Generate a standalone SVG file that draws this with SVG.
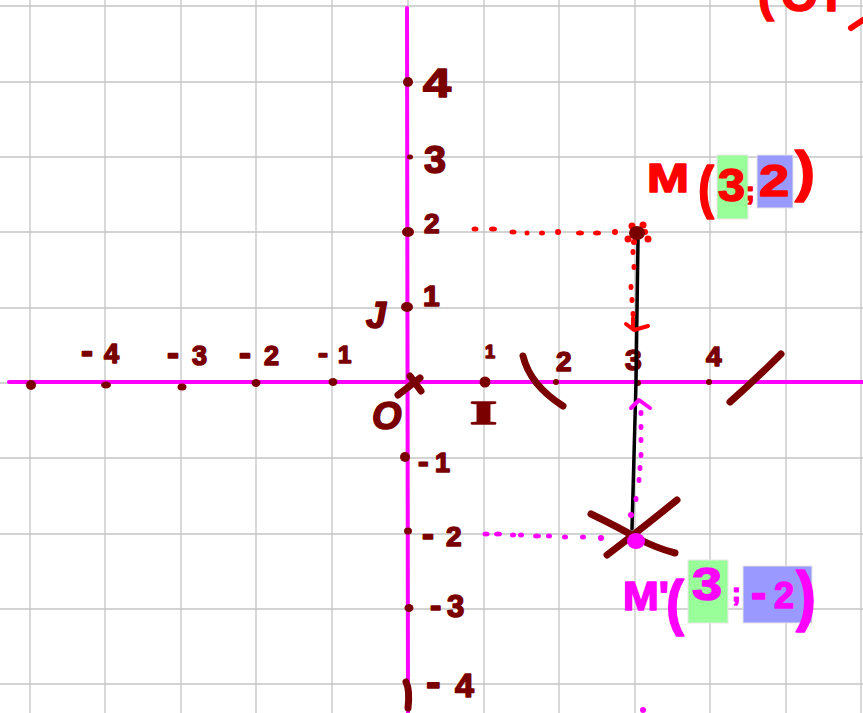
<svg xmlns="http://www.w3.org/2000/svg" width="863" height="713" viewBox="0 0 863 713">
<style>
.grid line{stroke:#c4c4c4;stroke-width:1.3}
.axis{stroke:#ff00ff;stroke-width:4;stroke-linecap:round;fill:none}
.mk{stroke:#7a0000;stroke-width:7;stroke-linecap:round;fill:none}
.dot{fill:#7a0000}
.lbl{fill:#7a0000;stroke:#7a0000;stroke-width:1.6;stroke-linejoin:round;font-family:"Liberation Sans",Arial,sans-serif;font-weight:bold}
.red{fill:#ff0000;stroke:#ff0000;stroke-width:1.6;stroke-linejoin:round;font-family:"Liberation Sans",Arial,sans-serif;font-weight:bold}
.mag{fill:#ff00ff;stroke:#ff00ff;stroke-width:1.6;stroke-linejoin:round;font-family:"Liberation Sans",Arial,sans-serif;font-weight:bold}
.mn{font-size:36px}
.rdot{fill:#ff0000}
.mdot{fill:#ff00ff}
.arrR{stroke:#ff0000;stroke-width:4;stroke-linecap:round;stroke-linejoin:round;fill:none}
.arrM{stroke:#ff00ff;stroke-width:4;stroke-linecap:round;stroke-linejoin:round;fill:none}
.hlG{fill:#99ff99;stroke:#e6e6e6;stroke-width:1}
.hlB{fill:#9999ff;stroke:#e6e6e6;stroke-width:1}
</style>
<rect width="863" height="713" fill="#ffffff"/>
<g class="grid" id="grid">
<line x1="30" y1="0" x2="30" y2="713"/><line x1="105" y1="0" x2="105" y2="713"/><line x1="181" y1="0" x2="181" y2="713"/><line x1="256" y1="0" x2="256" y2="713"/><line x1="332" y1="0" x2="332" y2="713"/><line x1="408" y1="0" x2="408" y2="713"/><line x1="484" y1="0" x2="484" y2="713"/><line x1="559" y1="0" x2="559" y2="713"/><line x1="635" y1="0" x2="635" y2="713"/><line x1="710" y1="0" x2="710" y2="713"/><line x1="786" y1="0" x2="786" y2="713"/><line x1="861" y1="0" x2="861" y2="713"/>
<line x1="0" y1="6" x2="863" y2="6"/><line x1="0" y1="82" x2="863" y2="82"/><line x1="0" y1="157" x2="863" y2="157"/><line x1="0" y1="232" x2="863" y2="232"/><line x1="0" y1="308" x2="863" y2="308"/><line x1="0" y1="383" x2="863" y2="383"/><line x1="0" y1="458" x2="863" y2="458"/><line x1="0" y1="534" x2="863" y2="534"/><line x1="0" y1="609" x2="863" y2="609"/><line x1="0" y1="684" x2="863" y2="684"/>
</g>
<g id="axes">
<line class="axis" x1="9" y1="382" x2="863" y2="382"/>
<line class="axis" x1="407" y1="8" x2="408" y2="713"/>
</g>
<g id="x-ticks">
<ellipse class="dot" cx="31" cy="385" rx="5" ry="5"/>
<ellipse class="dot" cx="106" cy="385" rx="5" ry="3.5"/>
<ellipse class="dot" cx="182" cy="387" rx="4.5" ry="3.5"/>
<ellipse class="dot" cx="256" cy="383" rx="4.5" ry="4"/>
<ellipse class="dot" cx="333" cy="382" rx="4.5" ry="4"/>
<ellipse class="dot" cx="485" cy="382" rx="5.5" ry="5.5"/>
<ellipse class="dot" cx="556" cy="382" rx="3" ry="3"/>
<ellipse class="dot" cx="638" cy="383" rx="3" ry="3"/>
<ellipse class="dot" cx="709" cy="382" rx="3" ry="3"/>
<text class="lbl" y="363" font-size="27"><tspan class="mn" x="81">-</tspan><tspan x="104">4</tspan></text>
<text class="lbl" y="365" font-size="27"><tspan class="mn" x="167">-</tspan><tspan x="192">3</tspan></text>
<text class="lbl" y="365" font-size="27"><tspan class="mn" x="239">-</tspan><tspan x="264">2</tspan></text>
<text class="lbl" y="363" font-size="24"><tspan class="mn" x="318" style="font-size:30px">-</tspan><tspan x="338">1</tspan></text>
<text class="lbl" x="485" y="358" font-size="18">1</text>
<text class="lbl" x="556" y="371" font-size="28">2</text>
<text class="lbl" x="625" y="370" font-size="30">3</text>
<text class="lbl" x="706" y="366" font-size="28">4</text>
</g>
<g id="y-ticks">
<ellipse class="dot" cx="408" cy="82" rx="5" ry="5"/>
<ellipse class="dot" cx="410" cy="157" rx="3" ry="2.5"/>
<ellipse class="dot" cx="408" cy="232" rx="6" ry="5"/>
<ellipse class="dot" cx="407" cy="307" rx="6" ry="5"/>
<ellipse class="dot" cx="405" cy="457" rx="5" ry="5"/>
<ellipse class="dot" cx="408" cy="531" rx="4" ry="3.5"/>
<ellipse class="dot" cx="409" cy="608" rx="4.5" ry="4"/>
<text class="lbl" x="423" y="97" font-size="40" textLength="28" lengthAdjust="spacingAndGlyphs">4</text>
<text class="lbl" x="424" y="173" font-size="38" textLength="22" lengthAdjust="spacingAndGlyphs">3</text>
<text class="lbl" x="424" y="233" font-size="28">2</text>
<text class="lbl" x="423" y="306" font-size="30">1</text>
<text class="lbl" x="366" y="328" font-size="36" font-style="italic">J</text>
<text class="lbl" y="472" font-size="27"><tspan class="mn" x="418" style="font-size:32px">-</tspan><tspan x="435">1</tspan></text>
<text class="lbl" y="546" font-size="28"><tspan class="mn" x="422">-</tspan><tspan x="446">2</tspan></text>
<text class="lbl" y="617" font-size="31"><tspan class="mn" x="430" style="font-size:34px">-</tspan><tspan x="447">3</tspan></text>
<text class="lbl" y="697" font-size="34"><tspan class="mn" x="426" style="font-size:44px">-</tspan><tspan x="455">4</tspan></text>
<path class="mk" d="M406 682 Q410 690 408 708" stroke-width="6"/>
</g>
<g id="origin">
<line class="mk" x1="398" y1="395" x2="420" y2="378" stroke-width="6"/>
<line class="mk" x1="410" y1="376" x2="421" y2="391" stroke-width="6"/>
<text class="lbl" x="372" y="429" font-size="38" font-style="italic">O</text>
<text class="lbl" x="470" y="424" font-size="34" textLength="27" lengthAdjust="spacingAndGlyphs" style="font-family:'Liberation Serif',serif">I</text>
</g>
<g id="marks">
<path class="mk" d="M523 356 Q530 385 563 406" stroke-width="8"/>
<path class="mk" d="M781 354 Q755 380 730 402" stroke-width="7"/>
</g>
<g id="connectors">
<path d="M638 240 L636 382 L632 529" stroke="#000" stroke-width="3.5" fill="none" stroke-linecap="round"/>
<g class="rdot">
<ellipse cx="475" cy="229" rx="3.5" ry="2.5"/><ellipse cx="493" cy="229" rx="4" ry="2.5"/><ellipse cx="513" cy="232" rx="3.5" ry="2.5"/><ellipse cx="527" cy="233" rx="2.5" ry="2.5"/><ellipse cx="542" cy="233" rx="3" ry="2.5"/><ellipse cx="558" cy="232" rx="3" ry="3"/><ellipse cx="580" cy="233" rx="4" ry="2.5"/><ellipse cx="597" cy="233" rx="4" ry="2.5"/><ellipse cx="615" cy="232" rx="3" ry="3"/>
<ellipse cx="633" cy="252" rx="2.5" ry="3"/><ellipse cx="634" cy="267" rx="2.5" ry="3"/><ellipse cx="631" cy="287" rx="2.5" ry="3"/><ellipse cx="632" cy="300" rx="2.5" ry="3"/><ellipse cx="633" cy="314" rx="2.5" ry="3"/>
</g>
<path class="arrR" d="M626 324 L634 330 L648 326"/>
<line class="arrR" x1="633" y1="318" x2="633" y2="328"/>
<g class="mdot">
<ellipse cx="486" cy="534" rx="3.5" ry="2.5"/><ellipse cx="498" cy="534" rx="4" ry="2.5"/><ellipse cx="513" cy="535" rx="3" ry="2.5"/><ellipse cx="521" cy="535" rx="3" ry="2.5"/><ellipse cx="537" cy="536" rx="4" ry="2.5"/><ellipse cx="549" cy="536" rx="3" ry="2.5"/><ellipse cx="565" cy="537" rx="3" ry="2.5"/><ellipse cx="583" cy="537" rx="3" ry="2.5"/><ellipse cx="601" cy="538" rx="3" ry="3"/>
<ellipse cx="641" cy="413" rx="2.5" ry="3"/><ellipse cx="641" cy="427" rx="2.5" ry="3"/><ellipse cx="641" cy="440" rx="2.5" ry="3"/><ellipse cx="641" cy="455" rx="2.5" ry="3"/><ellipse cx="640" cy="468" rx="2.5" ry="3"/><ellipse cx="639" cy="480" rx="2.5" ry="3"/><ellipse cx="636" cy="499" rx="2.5" ry="3"/><ellipse cx="631" cy="515" rx="3" ry="3"/>
<ellipse cx="643" cy="710" rx="3" ry="3"/>
</g>
<path class="arrM" d="M631 408 L639 400 L650 408"/>
</g>
<g id="point-M">
<g class="rdot">
<circle cx="632" cy="226" r="3.5"/><circle cx="643" cy="225" r="3.5"/><circle cx="628" cy="239" r="3.5"/><circle cx="648" cy="239" r="3.5"/><circle cx="645" cy="232" r="3"/><circle cx="634" cy="242" r="3"/>
</g>
<ellipse cx="637" cy="233" rx="8" ry="7" fill="#7a0000"/>
</g>
<g id="point-M-prime">
<path class="mk" d="M591 514 Q620 528 637 538 Q656 548 675 553" stroke-width="7"/>
<path class="mk" d="M607 555 Q640 530 677 500" stroke-width="7"/>
<ellipse cx="636" cy="541" rx="9" ry="8" fill="#ff00ff"/>
</g>
<g id="label-M">
<rect class="hlG" x="717" y="155" width="31" height="64"/>
<rect class="hlB" x="757" y="155" width="36" height="53"/>
<text class="red" x="647" y="192" font-size="40" textLength="42" lengthAdjust="spacingAndGlyphs">M</text>
<text class="red" x="698" y="207" font-size="58" textLength="16" lengthAdjust="spacingAndGlyphs">(</text>
<text class="red" x="718" y="201" font-size="46" textLength="27" lengthAdjust="spacingAndGlyphs">3</text>
<text class="red" x="746" y="200" font-size="26">;</text>
<text class="red" x="759" y="196" font-size="44" textLength="30" lengthAdjust="spacingAndGlyphs">2</text>
<text class="red" x="795" y="190" font-size="56" textLength="20" lengthAdjust="spacingAndGlyphs">)</text>
</g>
<g id="label-M-prime">
<rect class="hlG" x="688" y="560" width="40" height="63"/>
<rect class="hlB" x="743" y="566" width="69" height="57"/>
<text class="mag" x="623" y="610" font-size="40" textLength="46" lengthAdjust="spacingAndGlyphs">M'</text>
<text class="mag" x="666" y="623" font-size="62" textLength="18" lengthAdjust="spacingAndGlyphs">(</text>
<text class="mag" x="692" y="600" font-size="46" textLength="30" lengthAdjust="spacingAndGlyphs">3</text>
<text class="mag" x="732" y="601" font-size="26">;</text>
<text class="mag" y="608" font-size="36"><tspan x="751" style="font-size:46px">-</tspan><tspan x="774">2</tspan></text>
<text class="mag" x="796" y="618" font-size="66" textLength="20" lengthAdjust="spacingAndGlyphs">)</text>
</g>
<g id="label-top">
<text class="red" x="758" y="11" font-size="48" textLength="80" lengthAdjust="spacing">(OI</text>
<line x1="851" y1="28" x2="863" y2="20" stroke="#ff0000" stroke-width="6" stroke-linecap="round"/>
</g>
</svg>
